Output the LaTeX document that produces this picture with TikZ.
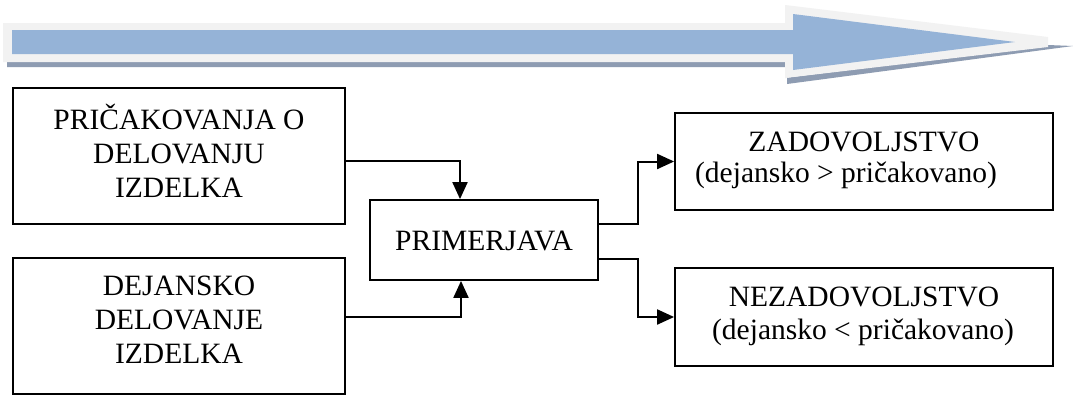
\documentclass[tikz,border=0pt]{standalone}
\usepackage{fontspec}
\setmainfont{Liberation Serif}
\usetikzlibrary{arrows.meta,calc}
\definecolor{arrblue}{HTML}{95B3D7}
\definecolor{arrlight}{HTML}{F2F2F2}
\definecolor{arrshadow}{HTML}{8E9CB2}
\tikzset{
  box/.style={draw=black,line width=1.8pt,rectangle,inner sep=0pt},
  lbl/.style={inner sep=0pt,align=center,font=\fontsize{29.5}{34}\selectfont},
  conn/.style={draw=black,line width=2pt,-{Triangle[length=17pt,width=15pt]}}
}
\begin{document}
\begin{tikzpicture}[x=1pt,y=-1pt]
\useasboundingbox (0,0) rectangle (1073,394);
\fill[white] (0,0) rectangle (1073,394);
% big arrow
\fill[arrshadow] (7,62) -- (785,62) -- (785,78) -- (1048,45) -- (1073,46) -- (787,84) -- (787,67) -- (7,67) -- cycle;
\fill[arrlight] (3,23) -- (785,23) -- (785,5) -- (1048,37) -- (1048,47) -- (785,78) -- (785,62) -- (3,62) -- cycle;
\fill[arrblue] (12,30) -- (793,30) -- (793,14) -- (1015,42) -- (793,70) -- (793,54) -- (12,54) -- cycle;
% boxes
\node[box,minimum width=332pt,minimum height=136pt] (b1) at (179,156) {};
\node[box,minimum width=332pt,minimum height=136pt] (b2) at (179,326) {};
\node[box,minimum width=228pt,minimum height=80pt] (pr) at (484,240) {};
\node[box,minimum width=378pt,minimum height=97pt] (za) at (864,161.5) {};
\node[box,minimum width=378pt,minimum height=98pt] (ne) at (864,317) {};
% texts
\node[lbl] (t1) at (179,151) {PRIČAKOVANJA O\\DELOVANJU\\IZDELKA};
\node[lbl] (t2) at (179,320) {DEJANSKO\\DELOVANJE\\IZDELKA};
\node[lbl] (tp) at (484,241) {PRIMERJAVA};
\node[lbl] (tz1) at (864,142) {ZADOVOLJSTVO};
\node[lbl] (tz2) at (846,175) {(dejansko > pričakovano)};
\node[lbl] (tn1) at (864,297) {NEZADOVOLJSTVO};
\node[lbl] (tn2) at (863,332) {(dejansko < pričakovano)};
% connectors
\coordinate (c1) at ($(b1.east)+(0,5)$);
\coordinate (c2) at ($(b2.east)+(0,-9)$);
\coordinate (c3) at ($(pr.east)+(0,-16)$);
\coordinate (c4) at ($(pr.east)+(0,19)$);
\draw[conn] (c1) -| ($(pr.north)+(-24,0)$);
\draw[conn] (c2) -| ($(pr.south)+(-23,0)$);
\draw[conn] (c3) -- ++(39,0) |- (za.west);
\draw[conn] (c4) -- ++(39,0) |- (ne.west);
\end{tikzpicture}
\end{document}
